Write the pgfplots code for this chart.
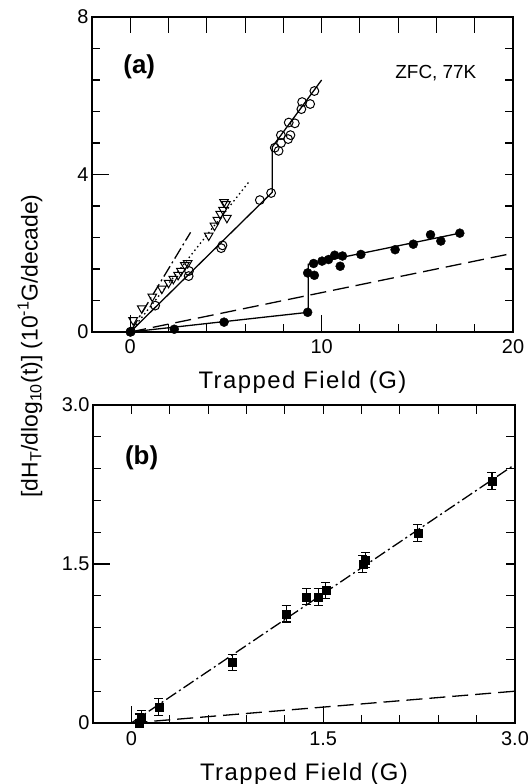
\documentclass[border=0pt]{standalone}
\usepackage{fontspec}
\setmainfont{Liberation Sans}
\usepackage{pgfplots}
\pgfplotsset{compat=1.18}
\begin{document}
\begin{tikzpicture}
\useasboundingbox (0bp,0bp) rectangle (530bp,784bp);
\pgfplotsset{
 common/.style={
  scale only axis,
  anchor=south west,
  axis line style={line width=1.4bp},
  tick style={line width=1.1bp, black},
  xtick pos=bottom, ytick pos=left,
  major tick length=17bp,
  minor tick length=8bp,
  tick label style={font=\fontsize{20}{24}\selectfont},
  /pgf/number format/assume math mode=true,
  xticklabel style={anchor=base, yshift=-22bp},
  xlabel style={at={(axis description cs:0.5,0)}, anchor=base, yshift=-57bp,
    font=\fontsize{24}{28}\selectfont\addfontfeatures{LetterSpace=6}},
  clip=true,
 },
 mirror/.style={
  scale only axis,
  anchor=south west,
  axis line style={draw=none},
  tick style={line width=1.1bp, black},
  xticklabels={}, yticklabels={},
  minor tick num=0,
 },
 ln/.style={line width=1.3bp, black},
}
% ---------------- panel (a) ----------------
\begin{axis}[common, at={(92bp,452bp)}, width=421bp, height=315bp,
  xmin=-2, xmax=20, ymin=0, ymax=8,
  xtick={0,10,20}, xticklabels={0,10,20}, minor x tick num=4,
  ytick={0,4,8}, yticklabels={0,4,8}, minor y tick num=4,
  xlabel={Trapped Field (G)}]
 \addplot[ln, dash pattern=on 16bp off 7bp] coordinates {(0,0) (20,2.0)};
 \addplot[ln, dash pattern=on 12bp off 3.5bp on 2bp off 3.5bp] coordinates {(0.05,0.04) (3.15,2.53)};
 \addplot[ln, dash pattern=on 1.5bp off 3bp] coordinates {(0,0) (6.18,3.8)};
 \addplot[ln] coordinates {(0,0) (7.42,3.55) (7.42,4.7) (10.0,6.4)};
 \addplot[ln] coordinates {(0,0) (9.3,0.5) (9.3,1.72) (17.22,2.51)};
 % open circles
 \addplot[only marks, mark=o, mark size=4.4bp, mark options={line width=1bp, black}] coordinates {
  (0.03,0.01) (1.3,0.67) (3.05,1.42) (3.07,1.55) (4.75,2.13) (4.82,2.2)
  (6.77,3.35) (7.36,3.53) (7.55,4.68) (7.75,4.6) (7.88,4.8) (7.87,5.0)
  (8.25,4.9) (8.37,5.0) (8.28,5.32) (8.6,5.3) (8.94,5.66) (8.98,5.84)
  (9.4,5.79) (9.62,6.12)};
 % triangles
 \addplot[only marks, mark=triangle, mark size=5bp, mark options={rotate=180, line width=1bp, black}] coordinates {
  (0.15,0.3) (0.6,0.6) (1.15,0.9) (1.65,1.1) (2.0,1.25) (2.25,1.35)
  (2.5,1.45) (2.65,1.55) (2.85,1.7) (3.0,1.75) (4.1,2.45) (4.4,2.7)
  (4.55,2.85) (4.7,3.0) (4.85,3.1) (5.0,3.25) (5.05,2.9) (4.9,3.3)};
 % filled circles
 \addplot[only marks, mark=*, mark size=4.5bp, mark options={black, fill=black}] coordinates {
  (0,0) (2.3,0.07) (4.9,0.25) (9.27,0.5) (9.27,1.5) (9.62,1.44) (9.58,1.74)
  (10.02,1.8) (10.36,1.84) (10.68,1.95) (10.97,1.67) (11.09,1.93) (12.05,1.97)
  (13.84,2.09) (14.79,2.23) (15.69,2.47) (16.23,2.31) (17.22,2.51)};
 \node[font=\fontsize{26}{30}\selectfont\bfseries] at (axis cs:0.47,6.73) {(a)};
 \node[font=\fontsize{19}{23}\selectfont] at (axis cs:15.97,6.57) {ZFC, 77K};
\end{axis}
\begin{axis}[mirror, at={(92bp,452bp)}, width=421bp, height=315bp,
  xmin=-2, xmax=20, ymin=0, ymax=8, xtick pos=top, ytick=\empty,
  major tick length=16bp, xtick={0,2,4,6,8,10,12,14,16,18}]
\end{axis}
\begin{axis}[mirror, at={(92bp,452bp)}, width=421bp, height=315bp,
  xmin=-2, xmax=20, ymin=0, ymax=8, ytick pos=right, xtick=\empty,
  major tick length=8bp, ytick={0.8,1.6,2.4,3.2,4,4.8,5.6,6.4,7.2}]
\end{axis}
% ---------------- panel (b) ----------------
\begin{axis}[common, at={(93bp,61bp)}, width=422bp, height=318bp,
  xmin=-0.3, xmax=3.0, ymin=0, ymax=3.0,
  xtick={0,1.5,3}, xticklabels={0,1.5,3.0}, minor x tick num=4,
  ytick={0,1.5,3}, yticklabels={0,1.5,3.0}, minor y tick num=4,
  xlabel={Trapped Field (G)}]
 \addplot[ln, dash pattern=on 16bp off 7bp] coordinates {(0,0) (3.0,0.3)};
 \addplot[ln, dash pattern=on 12bp off 3.5bp on 2bp off 3.5bp] coordinates {(0,0) (3.0,2.44)};
 \addplot[only marks, mark=square*, mark size=4bp, mark options={black, fill=black},
   error bars/.cd, y dir=both, y explicit,
   error bar style={line width=1.1bp, black},
   error mark options={rotate=90, mark size=4.5bp, line width=1.1bp, black}]
   table[x=x, y=y, y error=e] {
  x y e
  0.06 0.0 0.085
  0.08 0.05 0.07
  0.215 0.15 0.08
  0.79 0.57 0.075
  1.21 1.03 0.077
  1.37 1.19 0.075
  1.46 1.19 0.08
  1.52 1.25 0.075
  1.81 1.50 0.08
  1.83 1.54 0.07
  2.24 1.79 0.08
  2.82 2.28 0.08
 };
 \node[font=\fontsize{26}{30}\selectfont\bfseries] at (axis cs:0.08,2.5) {(b)};
\end{axis}
\begin{axis}[mirror, at={(93bp,61bp)}, width=422bp, height=318bp,
  xmin=-0.3, xmax=3.0, ymin=0, ymax=3.0, xtick pos=top, ytick pos=right,
  major tick length=9bp,
  xtick={0,0.3,0.6,0.9,1.2,1.5,1.8,2.1,2.4,2.7},
  ytick={0.3,0.6,0.9,1.2,1.5,1.8,2.1,2.4,2.7}]
\end{axis}
\node[rotate=90, font=\fontsize{23}{27}\selectfont] at (30bp,438bp)
  {[dH\textsubscript{T}/dlog\textsubscript{10}(t)] (10\textsuperscript{-1}G/decade)};
\end{tikzpicture}
\end{document}
